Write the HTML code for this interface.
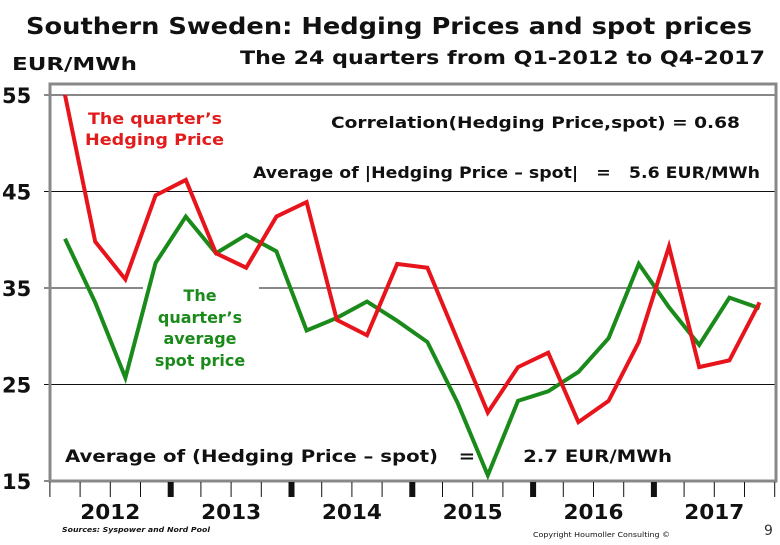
<!DOCTYPE html>
<html><head><meta charset="utf-8"><style>
body{margin:0;background:#fff;}
svg text{font-family:"DejaVu Sans","Liberation Sans",sans-serif;font-weight:bold;}
</style></head><body>
<svg id="chart" width="780" height="540" xmlns="http://www.w3.org/2000/svg">
<text x="26" y="34" font-size="23" textLength="726" lengthAdjust="spacingAndGlyphs" fill="#111">Southern Sweden: Hedging Prices and spot prices</text>
<text x="12" y="70" font-size="18" textLength="125" lengthAdjust="spacingAndGlyphs" fill="#111">EUR/MWh</text>
<text x="240" y="64" font-size="19" textLength="525" lengthAdjust="spacingAndGlyphs" fill="#111">The 24 quarters from Q1-2012 to Q4-2017</text>
<g id="grid"></g>
<rect x="50" y="84" width="726" height="397" fill="none" stroke="#888" stroke-width="3"/>
<rect x="143" y="280" width="116" height="90" fill="#fff"/>
<g id="xaxis"></g>
<g id="series"></g>
<text fill="#e21c1c" font-size="16"><tspan x="88" y="124" textLength="134" lengthAdjust="spacingAndGlyphs">The quarter’s</tspan><tspan x="85" y="145" textLength="139" lengthAdjust="spacingAndGlyphs">Hedging Price</tspan></text>
<text fill="#1a8a1a" font-size="16" text-anchor="middle"><tspan x="200" y="301">The</tspan><tspan x="200" y="323">quarter’s</tspan><tspan x="200" y="344">average</tspan><tspan x="200" y="366">spot price</tspan></text>
<text x="331" y="128" font-size="16" textLength="409" lengthAdjust="spacingAndGlyphs" fill="#111">Correlation(Hedging Price,spot)  =  0.68</text>
<text x="253" y="178" font-size="16" textLength="507" lengthAdjust="spacingAndGlyphs" fill="#111" xml:space="preserve">Average of |Hedging Price – spot|   =   5.6 EUR/MWh</text>
<text x="65" y="462" font-size="17" textLength="607" lengthAdjust="spacingAndGlyphs" fill="#111" xml:space="preserve">Average of (Hedging Price – spot)   =       2.7 EUR/MWh</text>
<text x="62" y="532" font-size="7" font-style="italic" textLength="148" lengthAdjust="spacingAndGlyphs" fill="#111">Sources: Syspower and Nord Pool</text>
<text x="533" y="537" font-size="7" textLength="137" lengthAdjust="spacingAndGlyphs" fill="#111" style="font-weight:normal">Copyright Houmoller Consulting ©</text>
<text x="764" y="535" font-size="14" style="font-weight:normal" fill="#333">9</text>
</svg>
<script>
const yTicks=[15,25,35,45,55];
const years=["2012","2013","2014","2015","2016","2017"];
const hedging=[55,39.8,35.9,44.6,46.2,38.6,37.1,42.4,43.9,31.7,30.1,37.5,37.1,29.6,22.1,26.8,28.3,21.1,23.3,29.4,39.3,26.8,27.5,33.5];
const spot=[40.1,33.5,25.7,37.6,42.4,38.6,40.5,38.8,30.6,31.9,33.6,31.6,29.4,23.1,15.6,23.3,24.3,26.3,29.8,37.5,33,29.1,34,32.9];
const NS="http://www.w3.org/2000/svg";
const y=v=>481-(v-15)*(386/40);
const x=i=>65+i*30.2;
function mk(tag,attrs,parent){const e=document.createElementNS(NS,tag);for(const k in attrs)e.setAttribute(k,attrs[k]);parent.appendChild(e);return e;}
const grid=document.getElementById('grid');
yTicks.forEach(v=>{
  const l=mk('line',{x1:50,x2:776,y1:y(v),y2:y(v),stroke:'#111','stroke-width':1},grid);
  
  
  const tk=mk('line',{x1:44,x2:50,y1:y(v),y2:y(v),stroke:'#111'},grid);
  
  
  const t=mk('text',{x:2,y:y(v)+8,'font-size':21,fill:'#111'},grid);
  t.textContent=v;
  
  
});
const xa=document.getElementById('xaxis');
for(let i=0;i<=24;i++){
  const xx=x(i)-15.1;
  const major=i%4===0&&i>0&&i<24;
  const tk=mk('line',{x1:xx,x2:xx,y1:482,y2:497,stroke:'#111','stroke-width':major?6:1},xa);
  
  
}
years.forEach((yr,k)=>{
  const cx=(x(4*k)+x(4*k+3))/2;
  const t=mk('text',{x:cx-30,y:519,'font-size':20,textLength:60,lengthAdjust:'spacingAndGlyphs',fill:'#111'},xa);
  t.textContent=yr;
  
  
});
const ser=document.getElementById('series');
const sp=mk('polyline',{points:spot.map((v,i)=>x(i)+','+y(v)).join(' '),fill:'none',stroke:'#1a8a1a','stroke-width':4,'stroke-linejoin':'miter'},ser);


const hp=mk('polyline',{points:hedging.map((v,i)=>x(i)+','+y(v)).join(' '),fill:'none',stroke:'#e8141c','stroke-width':4,'stroke-linejoin':'miter'},ser);


</script>
</body></html>
